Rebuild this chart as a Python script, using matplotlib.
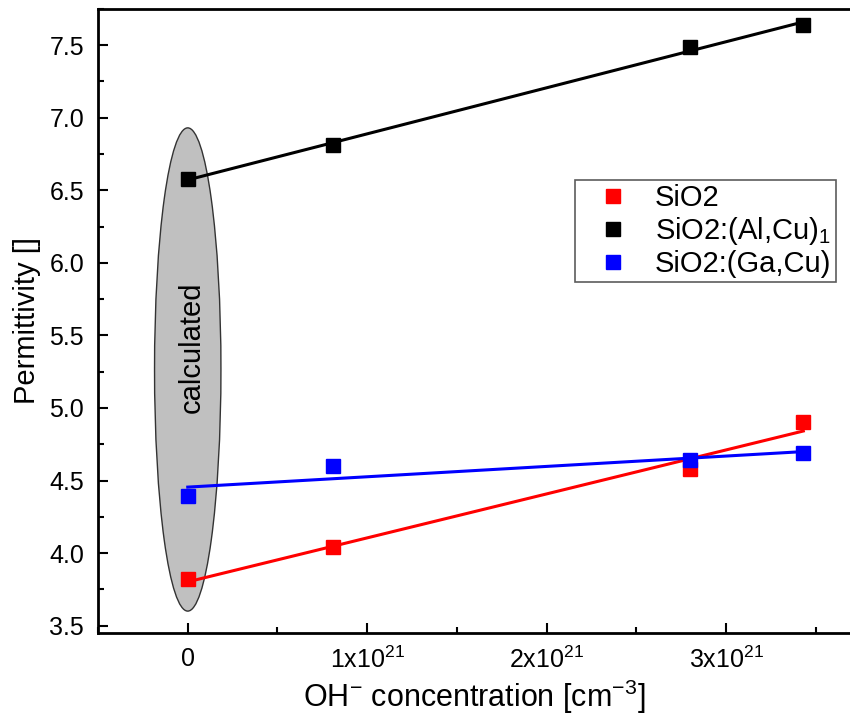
# -*- coding: utf-8 -*-
"""
permittivity vs OH- concentration, with linear fits
"""
import numpy as np
import matplotlib
matplotlib.use( "Agg" )
from matplotlib import pyplot as plt
from matplotlib.patches import Ellipse
from matplotlib.ticker import MultipleLocator, FuncFormatter

# OH- concentration in units of 1e21 cm^-3
conc = [ 0.0, 0.81, 2.80, 3.43 ]

eps_SiO2   = [ 3.82, 4.04, 4.58, 4.90 ]
eps_AlCu   = [ 6.58, 6.81, 7.49, 7.64 ]
eps_GaCu   = [ 4.39, 4.60, 4.64, 4.69 ]

series_names  = [ "SiO2", "SiO2:(Al,Cu)$_1$", "SiO2:(Ga,Cu)" ]
series_colors = [ "#ff0000", "#000000", "#0000ff" ]

FONT = [ "Liberation Sans", "DejaVu Sans" ]


def xfmt( v, pos ) :
    if abs( v ) < 1e-9 :
        return "0"
    return r"%dx10$^{21}$" % round( v )


def plotPermittivity() :
    plt.rcParams[ "font.family" ] = FONT
    plt.rcParams[ "mathtext.fontset" ] = "custom"
    plt.rcParams[ "mathtext.rm" ] = "Liberation Sans"
    plt.rcParams[ "mathtext.it" ] = "Liberation Sans"

    fig = plt.figure( figsize=( 8.5, 7.2 ), dpi=100 )
    ax = fig.add_axes( [ 0.1153, 0.121, 0.8847, 0.8667 ] )

    # "calculated" ellipse around x = 0
    ell = Ellipse( ( 0, 5.265 ), 0.37, 3.33, facecolor="#c0c0c0",
                   edgecolor="#333333", linewidth=1.0, zorder=1 )
    ax.add_patch( ell )
    ax.text( 0.02, 5.42, "calculated", rotation=90, ha="center", va="center",
             fontsize=21, zorder=2 )

    x = np.array( conc )
    allY = [ eps_SiO2, eps_AlCu, eps_GaCu ]
    handles = []
    for y, name, c in zip( allY, series_names, series_colors ) :
        k, b = np.polyfit( x, np.array( y ), 1 )
        ax.plot( [ x.min(), x.max() ], [ b + k * x.min(), b + k * x.max() ],
                 color=c, linewidth=2.2, zorder=3 )
        h, = ax.plot( x, y, linestyle="none", marker="s", markersize=9.5,
                      color=c, zorder=4, label=name )
        handles.append( h )

    ax.set_xlim( -0.5, 3.69 )
    ax.set_ylim( 3.45, 7.75 )

    ax.xaxis.set_major_locator( MultipleLocator( 1 ) )
    ax.xaxis.set_minor_locator( MultipleLocator( 0.5 ) )
    ax.xaxis.set_major_formatter( FuncFormatter( xfmt ) )
    ax.yaxis.set_major_locator( MultipleLocator( 0.5 ) )
    ax.yaxis.set_minor_locator( MultipleLocator( 0.25 ) )
    ax.yaxis.set_major_formatter( FuncFormatter( lambda v, p : "%.1f" % v ) )
    ax.set_yticks( np.arange( 3.5, 7.51, 0.5 ) )

    ax.tick_params( which="major", direction="in", length=7.5, width=1.5,
                    top=False, right=False )
    ax.tick_params( which="minor", direction="in", length=4, width=1.5,
                    top=False, right=False )
    ax.tick_params( axis="y", labelsize=18, pad=10 )
    ax.tick_params( axis="x", labelsize=18, pad=10 )

    for s in ax.spines.values() :
        s.set_linewidth( 2 )
    ax.spines[ "right" ].set_visible( False )

    ax.set_ylabel( "Permittivity []", fontsize=21, labelpad=6 )
    ax.set_xlabel( r"OH$^{-}$ concentration [cm$^{-3}$]", fontsize=22,
                   labelpad=3 )

    leg = ax.legend( handles=handles, loc="upper right",
                     bbox_to_anchor=( 0.981, 0.726 ), fontsize=21,
                     frameon=True, fancybox=False, edgecolor="#333333",
                     handlelength=2.3, handletextpad=0.28, borderpad=0.15,
                     labelspacing=0.1, borderaxespad=0 )
    leg.get_frame().set_linewidth( 1.2 )

    fig.savefig( "out.png", dpi=100 )


def main() :
    plotPermittivity()


if( __name__ == "__main__" ) :
    main()
